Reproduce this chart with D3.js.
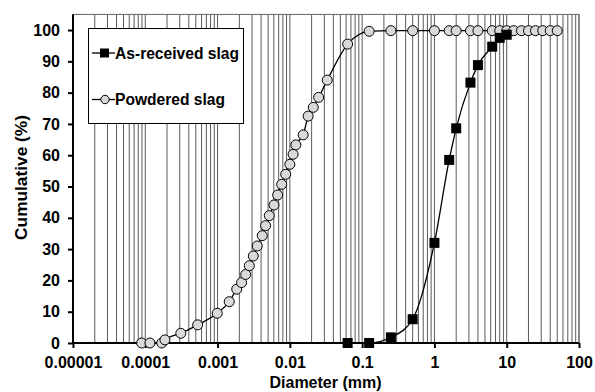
<!DOCTYPE html>
<html>
<head>
<meta charset="utf-8">
<script src="https://cdn.jsdelivr.net/npm/d3@7"></script>
<style>
  body { margin: 0; background: #fff; }
  text { font-family: Arial, "Liberation Sans", sans-serif; font-weight: bold; }
</style>
</head>
<body>
<div class="chart-wrapper"></div>
<script>
// sieve / laser diameters (mm) and cumulative passing (%)
const receivedDiam = [0.063, 0.125, 0.25, 0.5, 1, 1.6, 2, 3.15, 4, 6.3, 8, 10];
const receivedCum = [0, 0, 1.8, 7.6, 32, 58.5, 68.6, 83.2, 88.8, 94.7, 97.5, 98.5];

const powderDiam = [0.000089, 0.000116, 0.000169, 0.000187, 0.00031, 0.00053, 0.00099, 0.00145,
  0.00184, 0.00215, 0.00245, 0.00275, 0.00312, 0.00354, 0.00415, 0.00462, 0.00519, 0.00603,
  0.00678, 0.0077, 0.00875, 0.01, 0.0111, 0.0121, 0.0153, 0.0179, 0.0211, 0.025, 0.0329,
  0.063, 0.125, 0.25, 0.5, 1, 1.6, 2, 3.15, 4, 6.3, 8, 10, 12.5, 16, 20, 25, 31.5, 40, 50];
const powderCum = [0, 0, 0, 1.0, 3.1, 5.8, 9.5, 13.2,
  17.2, 19.3, 21.9, 24.7, 27.8, 31, 34.3, 37.5, 40.7, 44.1,
  47.3, 50.7, 53.9, 57.1, 60.3, 63.3, 66.5, 72.5, 75.3, 78.5, 84.0,
  95.5, 99.6, 99.8, 99.8, 99.8, 99.8, 99.8, 99.8, 99.8, 99.8, 99.8, 99.8, 99.8, 99.8, 99.8, 99.8, 99.8, 99.8, 99.8];

const xTicks = [0.00001, 0.0001, 0.001, 0.01, 0.1, 1, 10, 100];
const xTickLabels = ['0.00001', '0.0001', '0.001', '0.01', '0.1', '1', '10', '100'];
const yTicks = [0, 10, 20, 30, 40, 50, 60, 70, 80, 90, 100];

const W = 595, H = 392;
const margin = { top: 14.4, right: 16, bottom: 49, left: 73 };
const w = W - margin.left - margin.right,
  h = H - margin.top - margin.bottom;

const svg = d3.select('.chart-wrapper')
  .append('svg')
  .attr('width', W)
  .attr('height', H);

const g = svg.append('g')
  .attr('transform', 'translate(' + margin.left + ',' + margin.top + ')');

const x = d3.scaleLog().domain([0.00001, 100]).range([0, w]);
const y = d3.scaleLinear().domain([0, 105]).range([h, 0]);

// vertical grid lines at 1..9 x each decade
const gridVals = [];
for (let e = -5; e < 2; e++) {
  for (let k = 1; k <= 9; k++) gridVals.push(k * Math.pow(10, e));
}
gridVals.push(100);

g.selectAll('.grid')
  .data(gridVals)
  .enter()
  .append('line')
  .attr('class', 'grid')
  .attr('x1', d => x(d))
  .attr('x2', d => x(d))
  .attr('y1', 0)
  .attr('y2', h)
  .attr('stroke', '#5a5a5a')
  .attr('stroke-width', 1);

// plot frame
g.append('rect')
  .attr('x', 0).attr('y', 0)
  .attr('width', w).attr('height', h)
  .attr('fill', 'none')
  .attr('stroke', '#666')
  .attr('stroke-width', 1);

// axes
const xAxis = d3.axisBottom(x).tickValues(xTicks)
  .tickFormat((d, i) => xTickLabels[i]).tickSize(5).tickPadding(9);
const yAxis = d3.axisLeft(y).tickValues(yTicks).tickSize(5).tickPadding(8);

const gx = g.append('g')
  .attr('transform', 'translate(0,' + h + ')')
  .call(xAxis);
const gy = g.append('g').call(yAxis);

[gx, gy].forEach(a => {
  a.select('.domain').attr('stroke', '#000').attr('stroke-width', 2);
  a.selectAll('.tick line').attr('stroke', '#000').attr('stroke-width', 2);
  a.selectAll('.tick text')
    .attr('fill', '#000')
    .style('font-size', '16px')
    .style('font-weight', 'bold')
    .style('font-family', 'Arial, "Liberation Sans", sans-serif');
});
gy.select('.domain').attr('d', 'M0,' + h + 'V0');
gx.select('.domain').attr('d', 'M0,0H' + w);

// axis titles
svg.append('text')
  .attr('x', 325.5)
  .attr('y', 387.5)
  .attr('text-anchor', 'middle')
  .style('font-size', '16px')
  .text('Diameter (mm)');

svg.append('text')
  .attr('transform', 'translate(27,177.5) rotate(-90)')
  .attr('text-anchor', 'middle')
  .style('font-size', '17.3px')
  .text('Cumulative (%)');

// lines
const line = d3.line()
  .x(d => x(d[0]))
  .y(d => y(d[1]))
  .curve(d3.curveMonotoneX);

const received = receivedDiam.map((d, i) => [d, receivedCum[i]]);
const powder = powderDiam.map((d, i) => [d, powderCum[i]]);

g.append('path')
  .datum(powder)
  .attr('d', line)
  .attr('fill', 'none')
  .attr('stroke', '#000')
  .attr('stroke-width', 1.3);

g.append('path')
  .datum(received)
  .attr('d', line)
  .attr('fill', 'none')
  .attr('stroke', '#000')
  .attr('stroke-width', 1.3);

// markers
g.selectAll('.pt-powder')
  .data(powder)
  .enter()
  .append('circle')
  .attr('class', 'pt-powder')
  .attr('cx', d => x(d[0]))
  .attr('cy', d => y(d[1]))
  .attr('r', 5)
  .attr('fill', '#d9d9d9')
  .attr('stroke', '#000')
  .attr('stroke-width', 1);

const sq = 10;
g.selectAll('.pt-received')
  .data(received)
  .enter()
  .append('rect')
  .attr('class', 'pt-received')
  .attr('x', d => x(d[0]) - sq / 2)
  .attr('y', d => y(d[1]) - sq / 2)
  .attr('width', sq)
  .attr('height', sq)
  .attr('fill', '#000');

// legend
const legend = svg.append('g').attr('class', 'legend');
legend.append('rect')
  .attr('x', 88.5).attr('y', 28.5)
  .attr('width', 155).attr('height', 95)
  .attr('fill', '#fff')
  .attr('stroke', '#000')
  .attr('stroke-width', 1);

const legendItems = [
  { name: 'As-received slag', ly: 53, type: 'square' },
  { name: 'Powdered slag', ly: 99.5, type: 'circle' }
];
legendItems.forEach(it => {
  legend.append('line')
    .attr('x1', 92).attr('x2', 115)
    .attr('y1', it.ly).attr('y2', it.ly)
    .attr('stroke', '#000').attr('stroke-width', 1.3);
  if (it.type === 'square') {
    legend.append('rect')
      .attr('x', 100).attr('y', it.ly - 4.5)
      .attr('width', 9).attr('height', 9)
      .attr('fill', '#000');
  } else {
    legend.append('circle')
      .attr('cx', 105).attr('cy', it.ly)
      .attr('r', 4.2)
      .attr('fill', '#d9d9d9')
      .attr('stroke', '#000');
  }
  legend.append('text')
    .attr('x', 115)
    .attr('y', it.ly + 5.5)
    .style('font-size', '15.6px')
    .text(it.name);
});
</script>
</body>
</html>
